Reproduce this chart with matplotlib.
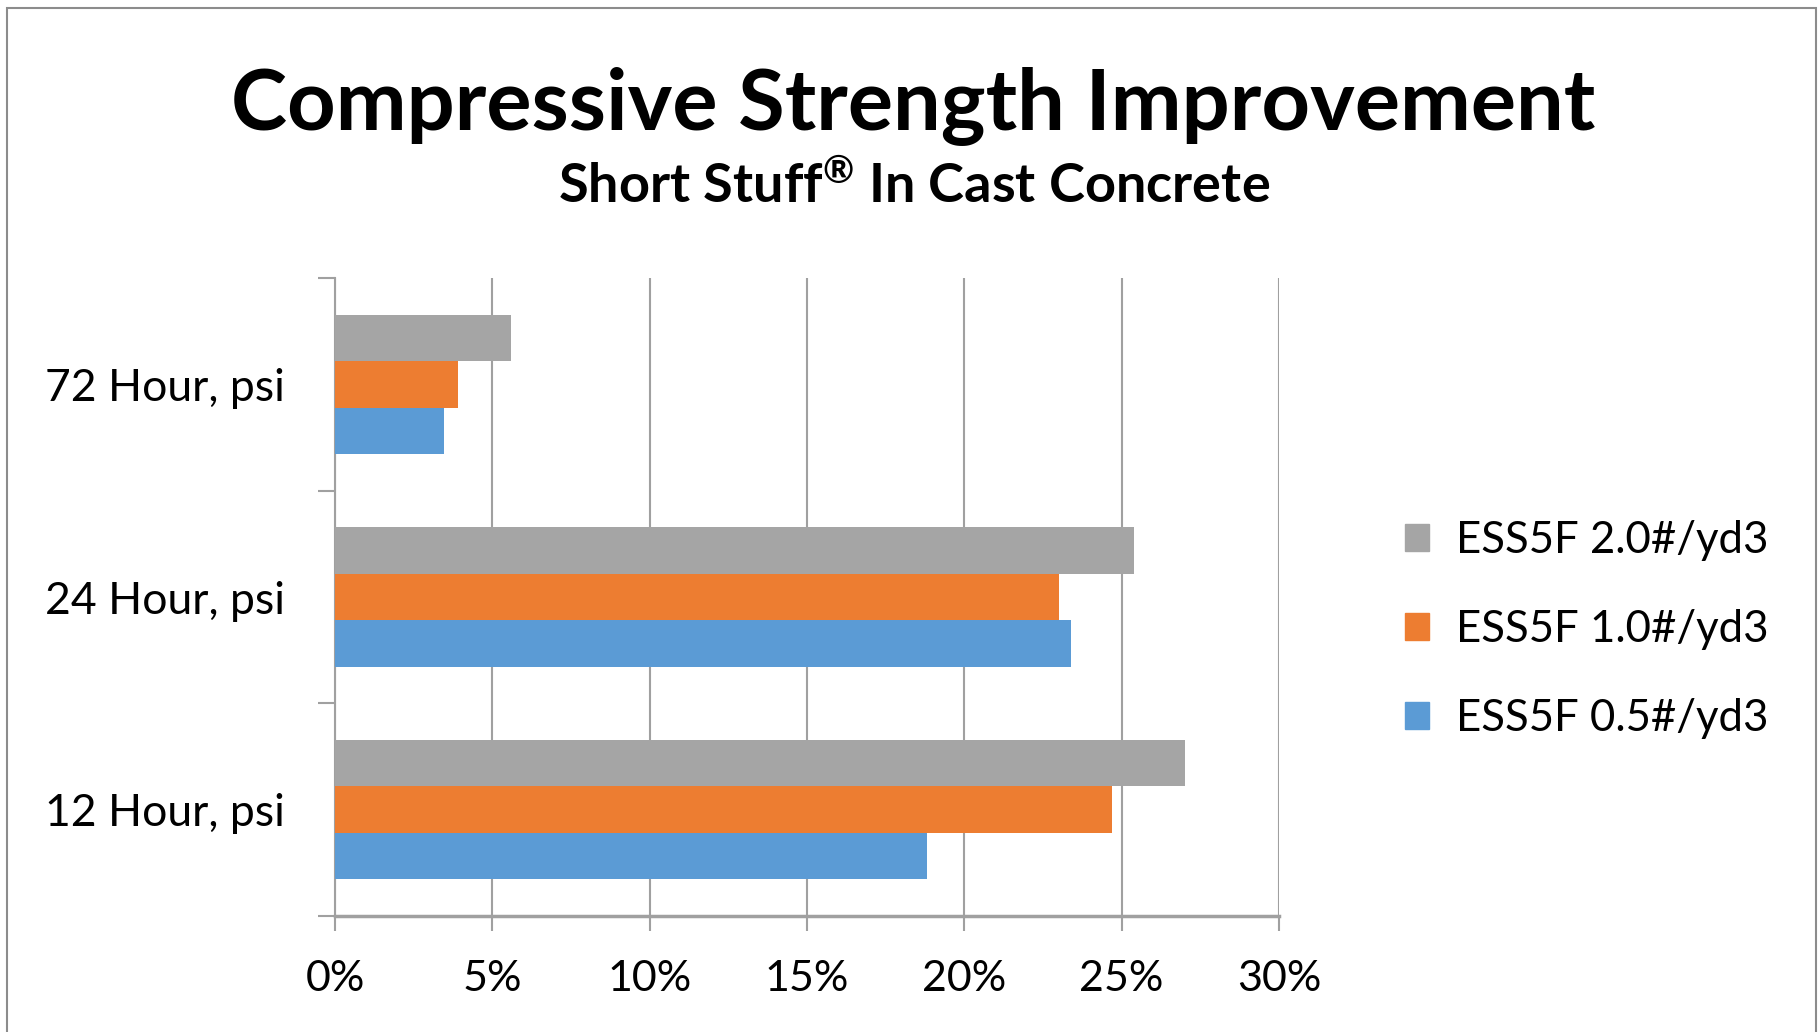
import matplotlib
matplotlib.use("Agg")
import matplotlib.pyplot as plt
from matplotlib.patches import Patch, Rectangle
import matplotlib.ticker as ticker
import numpy as np

# data (percent improvement)
categories = ["12 Hour, psi", "24 Hour, psi", "72 Hour, psi"]
series_names = ["ESS5F 0.5#/yd3", "ESS5F 1.0#/yd3", "ESS5F 2.0#/yd3"]
ess_05 = [18.8, 23.4, 3.45]
ess_10 = [24.7, 23.0, 3.9]
ess_20 = [27.0, 25.4, 5.6]
x_ticks = [0, 5, 10, 15, 20, 25, 30]

COLORS = ["#5B9BD5", "#ED7D31", "#A5A5A5"]
GRID = "#A0A0A0"

plt.rcParams["font.family"] = ["Lato", "DejaVu Sans"]
plt.rcParams["mathtext.default"] = "regular"


def main():
    fig = plt.figure(figsize=(18.18, 10.32), dpi=100)
    ax = fig.add_axes([0.1843, 0.1124, 0.7035 - 0.1843, 0.7306 - 0.1124])

    y = np.arange(len(categories))
    h = 0.218
    for i, (vals, name) in enumerate(zip([ess_05, ess_10, ess_20], series_names)):
        ax.barh(y + (i - 1) * h, vals, height=h, color=COLORS[i], label=name, zorder=3)

    ax.set_xlim(0, 30)
    ax.set_ylim(-0.5, 2.5)
    ax.set_xticks(x_ticks)
    ax.xaxis.set_major_formatter(ticker.FuncFormatter(lambda v, p: "{:.0f}%".format(v)))
    ax.grid(axis="x", color=GRID, linewidth=1.5, zorder=0)
    ax.set_axisbelow(True)

    ax.set_yticks(y)
    ax.set_yticklabels(categories)
    ax.set_yticks([-0.5, 0.5, 1.5, 2.5], minor=True)
    ax.tick_params(axis="y", which="major", length=0, pad=36, labelsize=32)
    ax.tick_params(axis="y", which="minor", length=12, width=1.5, color=GRID)
    ax.tick_params(axis="x", length=11, width=1.5, color=GRID, pad=21, labelsize=31)

    for s in ["top", "right"]:
        ax.spines[s].set_visible(False)
    ax.spines["left"].set_color(GRID)
    ax.spines["left"].set_linewidth(1.5)
    ax.spines["bottom"].set_color(GRID)
    ax.spines["bottom"].set_linewidth(2.5)

    fig.text(0.502, 0.898, "Compressive Strength Improvement", ha="center", va="center",
             fontsize=61, fontweight="bold")
    fig.text(0.503, 0.82, "Short Stuff$^{®}$ In Cast Concrete", ha="center", va="center",
             fontsize=39, fontweight="bold")

    # legend lists the series top-down in the same order as the bars
    handles = [Patch(color=COLORS[i], label=series_names[i]) for i in [2, 1, 0]]
    fig.legend(handles=handles, loc="center left", bbox_to_anchor=(0.773, 0.39),
               frameon=False, fontsize=31.5, handlelength=0.55, handleheight=0.55,
               handletextpad=0.6, labelspacing=1.1, borderpad=0, borderaxespad=0)

    fig.patches.append(Rectangle((0.004, -0.01), 0.995, 1.002, transform=fig.transFigure,
                                 fill=False, edgecolor="#8C8C8C", linewidth=1.5))

    fig.savefig("out.png", dpi=100)


if __name__ == "__main__":
    main()
